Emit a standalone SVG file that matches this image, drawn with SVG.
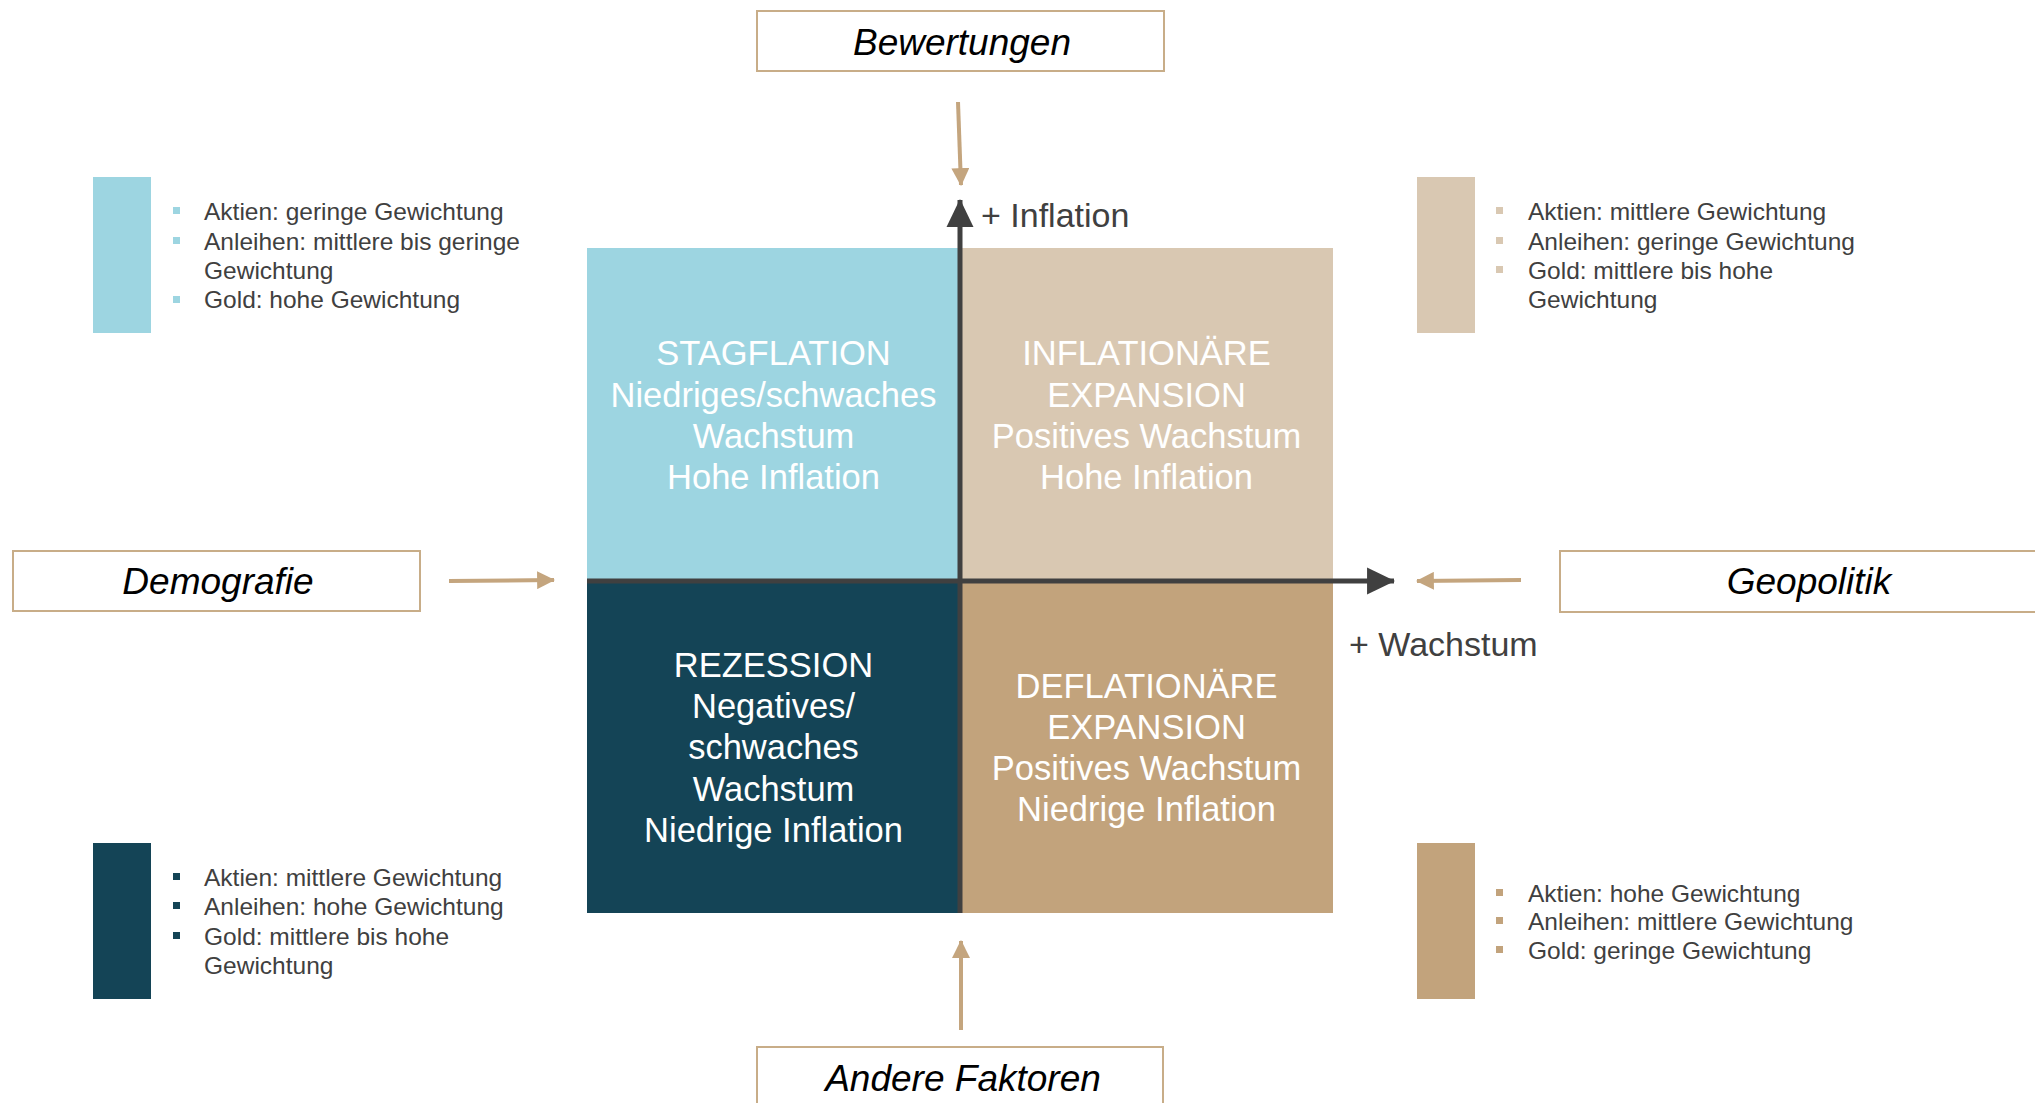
<svg xmlns="http://www.w3.org/2000/svg" width="2035" height="1103" viewBox="0 0 2035 1103">
<defs>
<style>
.lbl{font-family:"Liberation Sans",Arial,sans-serif;font-style:italic;font-size:37px;fill:#000;text-anchor:middle}
.box{fill:#fff;stroke:#C8AD88;stroke-width:2}
.q{font-family:"Liberation Sans",Arial,sans-serif;font-size:34.5px;fill:#fff;text-anchor:middle}
.ax{font-family:"Liberation Sans",Arial,sans-serif;font-size:34px;fill:#404040}
.lg{font-family:"Liberation Sans",Arial,sans-serif;font-size:24.5px;fill:#404040}
.tan{stroke:#C4A57E;stroke-width:4;fill:none}
.axis{stroke:#404040;stroke-width:5;fill:none}
</style>
<marker id="tanHead" markerUnits="userSpaceOnUse" markerWidth="18" markerHeight="18" viewBox="0 0 16 16" refX="15" refY="8" orient="auto">
<path d="M0,0 L16,8 L0,16 Z" fill="#C4A57E"/>
</marker>
<marker id="axHead" markerUnits="userSpaceOnUse" markerWidth="28" markerHeight="28" viewBox="0 0 27 26" refX="26" refY="13" orient="auto">
<path d="M0,0 L27,13 L0,26 Z" fill="#404040"/>
</marker>
</defs>
<rect width="2035" height="1103" fill="#fff"/>

<g id="quadrants">
<g id="stagflation">
<rect x="587" y="248" width="373" height="332" fill="#9DD5E1"/>
<text class="q" x="773.5" y="365">STAGFLATION</text>
<text class="q" x="773.5" y="407">Niedriges/schwaches</text>
<text class="q" x="773.5" y="448">Wachstum</text>
<text class="q" x="773.5" y="489">Hohe Inflation</text>
</g>
<g id="inflationaere">
<rect x="960" y="248" width="373" height="332" fill="#D9C8B2"/>
<text class="q" x="1146.5" y="365">INFLATIONÄRE</text>
<text class="q" x="1146.5" y="407">EXPANSION</text>
<text class="q" x="1146.5" y="448">Positives Wachstum</text>
<text class="q" x="1146.5" y="489">Hohe Inflation</text>
</g>
<g id="rezession">
<rect x="587" y="580" width="373" height="333" fill="#144456"/>
<text class="q" x="773.5" y="677">REZESSION</text>
<text class="q" x="773.5" y="718">Negatives/</text>
<text class="q" x="773.5" y="759">schwaches</text>
<text class="q" x="773.5" y="801">Wachstum</text>
<text class="q" x="773.5" y="842">Niedrige Inflation</text>
</g>
<g id="deflationaere">
<rect x="960" y="580" width="373" height="333" fill="#C2A37C"/>
<text class="q" x="1146.5" y="698">DEFLATIONÄRE</text>
<text class="q" x="1146.5" y="739">EXPANSION</text>
<text class="q" x="1146.5" y="780">Positives Wachstum</text>
<text class="q" x="1146.5" y="821">Niedrige Inflation</text>
</g>
</g>

<g id="axes">
<line class="axis" x1="960" y1="913" x2="960" y2="200" marker-end="url(#axHead)"/>
<line class="axis" x1="587" y1="581" x2="1394" y2="581" marker-end="url(#axHead)"/>
<text class="ax" x="981" y="227">+ Inflation</text>
<text class="ax" x="1349" y="656">+ Wachstum</text>
</g>

<g id="connectors">
<line class="tan" x1="958" y1="102" x2="961" y2="185" marker-end="url(#tanHead)"/>
<line class="tan" x1="961" y1="1030" x2="961" y2="941" marker-end="url(#tanHead)"/>
<line class="tan" x1="449" y1="581" x2="554" y2="580" marker-end="url(#tanHead)"/>
<line class="tan" x1="1521" y1="580" x2="1417" y2="581" marker-end="url(#tanHead)"/>
</g>

<g id="bewertungen">
<rect class="box" x="757" y="11" width="407" height="60"/>
<text class="lbl" x="962" y="55">Bewertungen</text>
</g>
<g id="demografie">
<rect class="box" x="13" y="551" width="407" height="60"/>
<text class="lbl" x="218" y="594">Demografie</text>
</g>
<g id="geopolitik">
<rect class="box" x="1560" y="551" width="490" height="61"/>
<text class="lbl" x="1809" y="594">Geopolitik</text>
</g>
<g id="andere-faktoren">
<rect class="box" x="757" y="1047" width="406" height="70"/>
<text class="lbl" x="963" y="1091">Andere Faktoren</text>
</g>

<g id="legend-stagflation">
<rect x="93" y="177" width="58" height="156" fill="#9DD5E1"/>
<g fill="#9DD5E1">
<rect x="173" y="207" width="7" height="7"/>
<rect x="173" y="237" width="7" height="7"/>
<rect x="173" y="296" width="7" height="7"/>
</g>
<text class="lg" x="204" y="220">Aktien: geringe Gewichtung</text>
<text class="lg" x="204" y="250">Anleihen: mittlere bis geringe</text>
<text class="lg" x="204" y="279">Gewichtung</text>
<text class="lg" x="204" y="308">Gold: hohe Gewichtung</text>
</g>

<g id="legend-inflationaere">
<rect x="1417" y="177" width="58" height="156" fill="#D9C8B2"/>
<g fill="#D9C8B2">
<rect x="1496" y="207" width="7" height="7"/>
<rect x="1496" y="237" width="7" height="7"/>
<rect x="1496" y="266" width="7" height="7"/>
</g>
<text class="lg" x="1528" y="220">Aktien: mittlere Gewichtung</text>
<text class="lg" x="1528" y="250">Anleihen: geringe Gewichtung</text>
<text class="lg" x="1528" y="279">Gold: mittlere bis hohe</text>
<text class="lg" x="1528" y="308">Gewichtung</text>
</g>

<g id="legend-rezession">
<rect x="93" y="843" width="58" height="156" fill="#144456"/>
<g fill="#144456">
<rect x="173" y="873" width="7" height="7"/>
<rect x="173" y="902" width="7" height="7"/>
<rect x="173" y="932" width="7" height="7"/>
</g>
<text class="lg" x="204" y="886">Aktien: mittlere Gewichtung</text>
<text class="lg" x="204" y="915">Anleihen: hohe Gewichtung</text>
<text class="lg" x="204" y="945">Gold: mittlere bis hohe</text>
<text class="lg" x="204" y="974">Gewichtung</text>
</g>

<g id="legend-deflationaere">
<rect x="1417" y="843" width="58" height="156" fill="#C2A37C"/>
<g fill="#C2A37C">
<rect x="1496" y="889" width="7" height="7"/>
<rect x="1496" y="917" width="7" height="7"/>
<rect x="1496" y="946" width="7" height="7"/>
</g>
<text class="lg" x="1528" y="902">Aktien: hohe Gewichtung</text>
<text class="lg" x="1528" y="930">Anleihen: mittlere Gewichtung</text>
<text class="lg" x="1528" y="959">Gold: geringe Gewichtung</text>
</g>
</svg>
